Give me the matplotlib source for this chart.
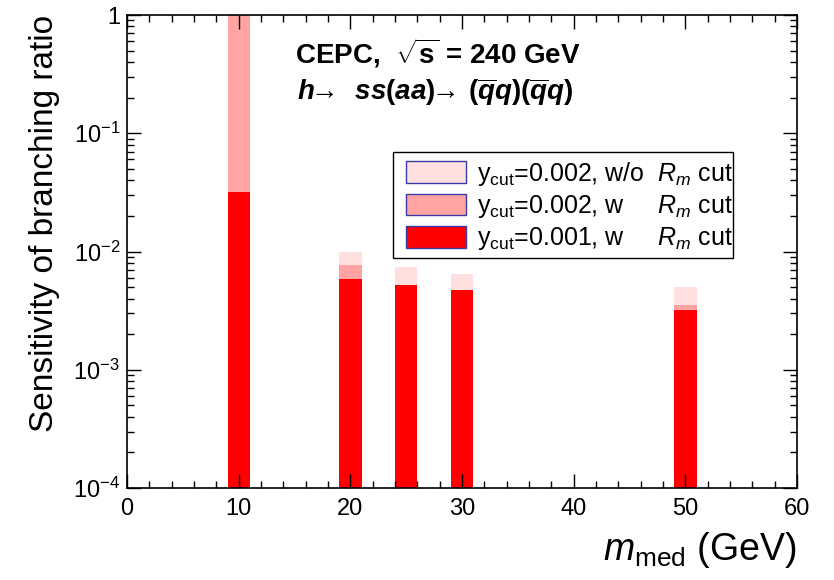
import matplotlib
matplotlib.use("Agg")
import matplotlib.pyplot as plt
from matplotlib.patches import Patch, Rectangle
from matplotlib.ticker import FuncFormatter, LogLocator, MultipleLocator
import numpy as np

plt.rcParams['font.family'] = ['Liberation Sans', 'DejaVu Sans']
plt.rcParams['mathtext.fontset'] = 'custom'
plt.rcParams['mathtext.rm'] = 'Liberation Sans'
plt.rcParams['mathtext.it'] = 'Liberation Sans:italic'
plt.rcParams['mathtext.bf'] = 'Liberation Sans:bold'
plt.rcParams['mathtext.bfit'] = 'Liberation Sans:bold:italic'

# mediator masses (GeV) and sensitivities
masses = [10, 20, 25, 30, 50]
sens_002_wo = [1.0, 0.0099, 0.00735, 0.00645, 0.00504]
sens_002_w = [1.0, 0.0077, 0.0051, 0.0046, 0.00355]
sens_001_w = [0.032, 0.00585, 0.00518, 0.00469, 0.00318]

labels = [r"y$_{\rm cut}$=0.002, w/o  $R_m$ cut",
          r"y$_{\rm cut}$=0.002, w     $R_m$ cut",
          r"y$_{\rm cut}$=0.001, w     $R_m$ cut"]
colors = ['#ffe0e0', '#ffa3a3', '#ff0000']

W, H = 834, 580
fig = plt.figure(figsize=(8.34, 5.8), dpi=100)
ax = fig.add_axes([127 / W, 1 - 488 / H, 670 / W, 473 / H])

ymin = 1e-4
for vals, c in zip([sens_002_wo, sens_002_w, sens_001_w], colors):
    v = np.array(vals)
    ax.bar(masses, v - ymin, bottom=ymin, width=2.0, color=c, edgecolor='none')

ax.set_yscale('log')
ax.set_ylim(1e-4, 1)
ax.set_xlim(0, 60)

ax.xaxis.set_major_locator(MultipleLocator(10))
ax.xaxis.set_minor_locator(MultipleLocator(2))
ax.yaxis.set_major_locator(LogLocator(base=10))
ax.yaxis.set_minor_locator(LogLocator(base=10, subs=np.arange(2, 10)))

def yfmt(v, pos):
    e = int(round(np.log10(v)))
    if e == 0:
        return "1"
    return r"$10^{%d}$" % e

ax.yaxis.set_major_formatter(FuncFormatter(yfmt))
ax.yaxis.set_minor_formatter(FuncFormatter(lambda v, p: ""))

ax.tick_params(which='both', direction='in', top=True, right=True, labelsize=17, width=1)
ax.tick_params(which='major', length=10)
ax.tick_params(which='minor', length=5)
ax.tick_params(axis='x', which='major', pad=7)
ax.tick_params(axis='y', which='major', pad=5)
for s in ax.spines.values():
    s.set_linewidth(1.2)

ax.set_ylabel("Sensitivity of branching ratio", fontsize=24, loc='top')
ax.yaxis.set_label_coords(-0.10, 1.0)
ax.set_xlabel(r"$m_{\rm med}$ (GeV)", fontsize=27, loc='right')
ax.xaxis.set_label_coords(1.0, -0.088)

ax.text(0.2507, 0.8985, r"CEPC,  $\sqrt{\mathbf{s}}$ = 240 GeV", transform=ax.transAxes,
        fontsize=20, fontweight='bold', va='baseline')
ax.text(0.2537, 0.820,
        r"$\mathbfit{h}\!\!{\rightarrow}\ \,\mathbfit{ss}\mathbf{(}\mathbfit{aa}\mathbf{)}\!\!{\rightarrow}\,"
        r"\mathbf{(}\overline{\mathbfit{q}}\mathbfit{q}\mathbf{)}\mathbf{(}\overline{\mathbfit{q}}\mathbfit{q}\mathbf{)}$",
        transform=ax.transAxes, fontsize=20, va='baseline')

# legend frame drawn separately (ROOT-style text runs past it)
fig.patches.append(Rectangle((393 / W, 1 - 258 / H), 340 / W, 106 / H, transform=fig.transFigure,
                             facecolor='white', edgecolor='black', linewidth=1, zorder=3))
handles = [Patch(facecolor=c, edgecolor='#3a3aa8', linewidth=1) for c in colors]
leg = fig.legend(handles, labels, loc='upper left', bbox_to_anchor=(393 / W, 1 - 147 / H),
                 fontsize=18, frameon=False, handlelength=2.4, handleheight=0.95,
                 labelspacing=0.22, borderpad=0.5, handletextpad=0.45, borderaxespad=0)
leg.set_zorder(4)

fig.savefig("out.png", dpi=100)
